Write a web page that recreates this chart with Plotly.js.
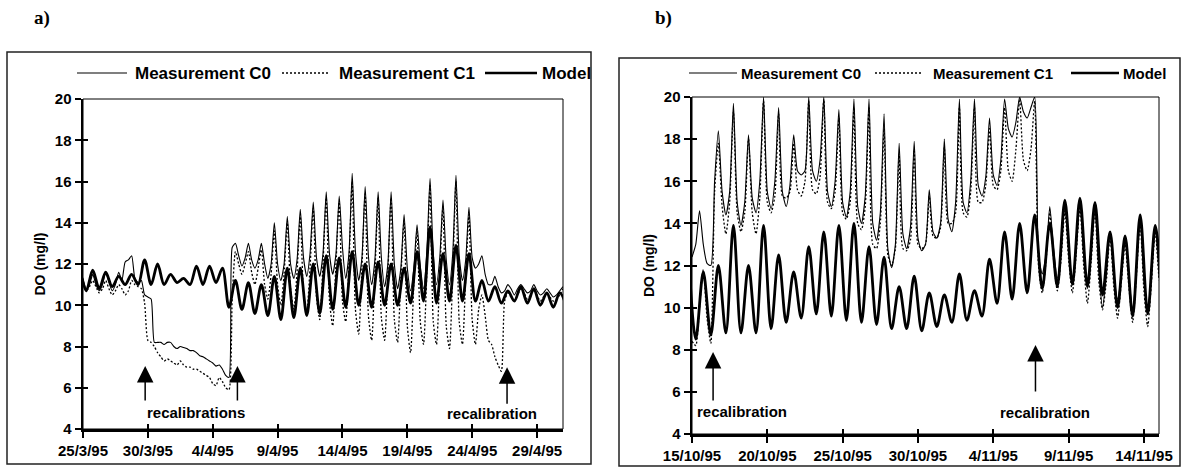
<!DOCTYPE html>
<html>
<head>
<meta charset="utf-8">
<script src="https://cdn.plot.ly/plotly-3.0.1.min.js"></script>
<style>html,body{margin:0;padding:0;background:#fff;}#chart{width:1186px;height:468px;}</style>
</head>
<body>
<div id="chart"></div>
<script>
// ---------------- DATA ----------------
// Panel a) 25/3/95 - 1/5/95
const tickValsA = ['1995-03-25','1995-03-30','1995-04-04','1995-04-09','1995-04-14','1995-04-19','1995-04-24','1995-04-29'];
const tickTextA = ['25/3/95','30/3/95','4/4/95','9/4/95','14/4/95','19/4/95','24/4/95','29/4/95'];
// Measurement C0, panel a, every 6 h from 25/3/95 00:00 (00,06,12,18 per day)
const c0A = [
 11.3,10.8,11.0,11.5,  11.0,10.7,11.0,11.6,  11.1,10.7,11.0,11.6,  11.2,12.1,12.2,12.4,
 11.3,11.1,11.2,10.5,  10.4,10.3,8.2,8.2,    8.2,8.1,8.2,8.2,      8.0,7.9,8.0,7.95,
 7.9,7.8,7.8,7.7,      7.55,7.5,7.4,7.3,     7.2,7.05,7.1,6.9,     6.6,6.5,12.8,13.0,
 12.4,11.9,12.3,13.0,  12.2,11.8,12.2,13.0,  12.0,11.3,12.0,14.0,  12.0,11.2,12.0,14.3,
 12.0,11.3,12.2,14.65, 12.3,11.4,12.5,15.0,  12.3,11.4,12.5,15.5,  12.5,11.5,12.5,15.3,
 12.8,11.3,12.5,16.4,  12.6,11.2,12.3,15.75, 12.4,11.0,12.2,15.5,  12.3,10.9,12.0,15.5,
 12.0,10.8,11.8,14.4,  11.8,10.7,11.8,13.9,  11.9,10.8,12.5,16.15, 12.5,11.0,12.3,15.1,
 12.2,11.0,12.5,16.3,  12.4,11.2,12.2,14.75, 12.3,11.8,12.0,12.4,  11.5,11.0,11.0,11.4,
 10.9,10.6,10.7,11.0,  10.8,10.5,10.8,11.0,  10.8,10.6,10.7,11.0,  10.7,10.5,10.6,10.8,
 10.6,10.4,10.5,10.7,  10.9
];
// Measurement C1, panel a, same 6 h grid
const c1A = [
 11.0,10.7,10.9,11.2,  10.9,10.6,10.8,11.2,  10.8,10.5,10.7,11.0,  10.8,10.5,10.7,11.2,
 11.0,10.9,10.8,10.1,  8.3,8.2,8.0,7.7,      7.5,7.3,7.4,7.3,      7.2,7.1,7.3,7.1,
 7.0,7.0,6.9,6.9,      6.8,6.7,6.6,6.5,      6.2,6.1,6.5,6.3,      6.0,5.9,10.3,12.6,
 12.0,11.5,12.0,12.6,  11.6,11.0,11.8,12.7,  11.0,10.3,11.5,13.6,  11.0,10.0,11.5,14.0,
 10.8,9.8,11.6,14.3,   10.6,9.7,11.8,14.7,   10.4,9.3,12.0,15.2,   10.2,9.0,12.0,15.0,
 10.2,9.2,12.0,16.0,   9.8,8.6,11.8,15.4,    9.5,8.3,11.5,15.2,    9.4,8.3,11.5,15.2,
 9.3,8.2,11.3,14.1,    9.0,7.7,11.0,13.6,    9.2,8.1,11.5,15.8,    9.2,8.1,11.5,14.8,
 9.0,7.9,11.5,16.0,    9.2,8.1,11.3,14.4,    9.3,8.1,9.8,10.5,     9.5,8.3,8.1,7.5,
 7.1,6.8,10.2,10.6,    10.4,10.2,10.5,10.8,  10.6,10.3,10.5,10.8,  10.5,10.2,10.4,10.6,
 10.4,10.2,10.3,10.5,  10.8
];
// Model, panel a, every 12 h from 24/3/95 18:00 (06 trough, 18 peak)
const modelA = [
 11.8,
 10.7,11.7, 10.8,11.6, 10.9,11.4, 11.0,11.5, 11.0,12.2, 11.0,12.0, 11.0,11.5, 11.1,11.3,
 11.0,11.9, 11.0,11.9, 11.1,11.8, 9.9,11.2,  9.8,11.1,  9.6,11.0,  9.5,11.4,  9.3,11.8,
 9.4,11.8,  9.5,12.0,  9.6,12.4,  9.8,12.3,  9.9,12.6,  10.0,12.0, 9.9,12.1,  10.0,12.0,
 10.0,11.8, 10.1,12.6, 10.2,13.8, 10.1,12.5, 10.2,12.9, 10.2,12.5, 10.2,11.2, 10.2,10.9,
 10.1,10.7, 10.2,10.9, 10.1,10.8, 10.0,10.6, 9.9,10.6,  10.0
];

// Panel b) 15/10/95 - 15/11/95
const tickValsB = ['1995-10-15','1995-10-20','1995-10-25','1995-10-30','1995-11-04','1995-11-09','1995-11-14'];
const tickTextB = ['15/10/95','20/10/95','25/10/95','30/10/95','4/11/95','9/11/95','14/11/95'];
// Measurement C0, panel b, every 6 h from 15/10/95 00:00
const c0B = [
 12.4,13.0,14.6,13.0,  12.1,12.0,16.0,18.4,  15.5,14.4,15.5,19.7,  15.0,13.9,15.0,18.2,
 15.2,14.5,16.0,20.0,  15.5,14.7,16.0,19.5,  15.5,14.8,15.8,18.2,  16.5,16.3,16.5,20.0,
 16.5,16.0,17.0,20.0,  15.5,14.8,16.0,19.4,  15.0,14.3,15.5,19.9,  14.8,14.0,15.3,19.9,
 14.0,13.2,14.5,19.2,  12.8,11.9,13.0,17.8,  13.5,12.8,13.8,17.9,  13.3,12.7,13.0,15.6,
 13.6,13.3,14.0,18.0,  14.2,13.6,15.0,19.9,  15.0,14.5,16.0,19.9,  15.8,15.3,16.2,19.0,
 16.3,15.8,17.0,19.9,  18.5,18.1,18.8,20.0,  19.3,19.0,19.5,20.0,  12.5,11.6,12.5,14.8,
 12.8,11.4,12.6,14.9,  12.8,11.3,12.8,15.0,  12.5,10.9,12.5,14.8,  11.8,10.0,11.5,13.6,
 11.5,10.4,11.5,13.2,  11.5,9.8,11.8,14.2,   11.3,9.9,11.5,13.8,   11.5
];
// Measurement C1, panel b, same 6 h grid
const c1B = [
 8.4,8.2,10.0,11.8,    9.5,8.3,15.5,17.8,    14.8,13.5,15.0,19.3,  14.5,13.6,14.5,18.0,
 14.5,13.5,15.2,19.8,  15.0,14.5,15.3,19.2,  15.3,15.2,15.5,17.8,  15.6,15.3,16.0,19.8,
 15.6,15.4,16.2,19.9,  15.0,14.7,15.5,19.0,  14.5,14.2,15.0,19.5,  14.0,13.7,14.8,19.5,
 13.0,12.8,14.0,18.5,  12.5,12.0,12.8,17.3,  12.8,12.7,13.2,17.5,  13.0,12.8,13.0,15.3,
 13.4,13.3,13.8,17.6,  14.0,14.0,14.5,19.5,  14.5,14.3,15.5,19.5,  15.0,15.0,15.8,18.5,
 15.8,15.6,16.5,19.5,  16.5,16.0,17.5,19.9,  17.0,16.5,17.5,19.8,  12.0,10.7,12.2,14.5,
 12.3,10.8,12.3,14.6,  12.3,10.7,12.5,14.8,  12.0,10.2,12.2,14.6,  11.3,9.9,11.2,13.4,
 11.0,9.5,11.2,13.0,   11.0,9.3,11.5,14.0,   10.8,9.1,11.2,13.6,   11.3
];
// Model, panel b, every 12 h from 14/10/95 18:00
const modelB = [
 12.8,
 8.5,11.7,  8.7,12.0,  8.8,13.9,  8.8,12.0,  8.8,13.9,  9.0,12.5,  9.3,11.7,  9.5,12.9,
 9.7,13.6,  9.6,13.9,  9.4,14.0,  9.3,12.9,  9.2,12.4,  9.0,11.0,  9.0,11.5,  8.9,10.7,
 9.1,10.6,  9.3,11.6,  9.4,10.8,  9.6,12.3,  10.2,13.6, 10.4,14.0, 10.7,14.4, 10.9,14.0,
 11.0,15.1, 11.1,15.2, 11.0,15.0, 10.6,13.6, 10.0,13.4, 9.6,14.4,  9.7,13.9,  10.0
];

const seriesNames = ['Measurement C0', 'Measurement C1', 'Model'];

// ---------------- HELPERS ----------------
function timeGrid(startIso, stepHours, n) {
  const t0 = Date.parse(startIso + ':00Z');
  const out = [];
  for (let i = 0; i < n; i++) {
    out.push(new Date(t0 + i * stepHours * 3600000).toISOString().slice(0, 16).replace('T', ' '));
  }
  return out;
}
const W = 1186, H = 468;
const px = v => v / W;
const py = v => 1 - v / H;

const FONT = 'Liberation Sans, Arial, Helvetica, sans-serif';
const styleC0 = {color: '#000', width: 1.1, shape: 'spline', smoothing: 0.6};
const styleC1 = {color: '#000', width: 1.3, dash: '2px,2px', shape: 'spline', smoothing: 0.6};
const styleM  = {color: '#000', width: 2.8, shape: 'spline', smoothing: 0.9};

function tr(x, y, name, line, xa, ya) {
  return {x: x, y: y, name: name, type: 'scatter', mode: 'lines', line: line,
          xaxis: xa, yaxis: ya, showlegend: false, hoverinfo: 'skip'};
}

const traces = [
  tr(timeGrid('1995-03-24T18:00', 12, modelA.length), modelA, seriesNames[2], styleM, 'x', 'y'),
  tr(timeGrid('1995-03-25T00:00', 6, c1A.length), c1A, seriesNames[1], styleC1, 'x', 'y'),
  tr(timeGrid('1995-03-25T00:00', 6, c0A.length), c0A, seriesNames[0], styleC0, 'x', 'y'),
  tr(timeGrid('1995-10-14T18:00', 12, modelB.length), modelB, seriesNames[2], styleM, 'x2', 'y2'),
  tr(timeGrid('1995-10-15T00:00', 6, c1B.length), c1B, seriesNames[1], styleC1, 'x2', 'y2'),
  tr(timeGrid('1995-10-15T00:00', 6, c0B.length), c0B, seriesNames[0], styleC0, 'x2', 'y2'),
  // empty traces that carry the inner (crossing) tick marks
  {x: [], y: [], type: 'scatter', xaxis: 'x3', yaxis: 'y3', showlegend: false, hoverinfo: 'skip'},
  {x: [], y: [], type: 'scatter', xaxis: 'x4', yaxis: 'y4', showlegend: false, hoverinfo: 'skip'}
];

const tickFont = {family: FONT, size: 15, color: '#000', weight: 700};
function xAxis(domain, range, vals, text, anchor) {
  return {domain: domain, range: range, type: 'date', anchor: anchor,
    tickmode: 'array', tickvals: vals, ticktext: text, ticks: 'outside', ticklen: 6, tickwidth: 2,
    tickcolor: '#000', showline: true, linewidth: 2.5, linecolor: '#000', showgrid: false,
    zeroline: false, tickfont: tickFont, ticklabelstandoff: 0, automargin: false, fixedrange: true};
}
function yAxis(domain, anchor) {
  return {domain: domain, range: [4, 20], anchor: anchor, tickmode: 'array',
    tickvals: [4, 6, 8, 10, 12, 14, 16, 18, 20], ticks: 'outside', ticklen: 6, tickwidth: 2,
    tickcolor: '#000', showline: true, linewidth: 2.5, linecolor: '#000', showgrid: false,
    zeroline: false, tickfont: tickFont, automargin: false, fixedrange: true,
    title: {text: 'DO (mg/l)', font: {family: FONT, size: 14, color: '#000', weight: 700}, standoff: 6}};
}
function innerX(over, range, vals, anchor) {
  return {overlaying: over, anchor: anchor, range: range, type: 'date', tickmode: 'array', tickvals: vals,
    ticks: 'inside', ticklen: 5, tickwidth: 2, tickcolor: '#000', showticklabels: false,
    showline: false, showgrid: false, zeroline: false, fixedrange: true};
}
function innerY(over, anchor) {
  return {overlaying: over, anchor: anchor, range: [4, 20], tickmode: 'array',
    tickvals: [4, 6, 8, 10, 12, 14, 16, 18, 20], ticks: 'inside', ticklen: 5, tickwidth: 2,
    tickcolor: '#000', showticklabels: false, showline: false, showgrid: false, zeroline: false, fixedrange: true};
}

const rangeA = ['1995-03-25 00:00', '1995-05-01 00:00'];
const rangeB = ['1995-10-15 00:00', '1995-11-15 00:00'];
const domXA = [px(83), px(563)], domYA = [py(429), py(99)];
const domXB = [px(692), px(1159)], domYB = [py(434), py(97)];

const shapes = [
  // panel frames
  {type: 'rect', xref: 'paper', yref: 'paper', x0: px(7), x1: px(591), y0: py(464), y1: py(52),
   line: {color: '#222', width: 1.5}},
  {type: 'rect', xref: 'paper', yref: 'paper', x0: px(619), x1: px(1180), y0: py(466), y1: py(58),
   line: {color: '#222', width: 1.5}},
  // thin plot-area borders
  {type: 'rect', xref: 'x domain', yref: 'y domain', x0: 0, x1: 1, y0: 0, y1: 1, line: {color: '#000', width: 1}},
  {type: 'rect', xref: 'x2 domain', yref: 'y2 domain', x0: 0, x1: 1, y0: 0, y1: 1, line: {color: '#000', width: 1}},
  // legend samples, panel a
  {type: 'line', xref: 'paper', yref: 'paper', x0: px(77), x1: px(127), y0: py(73), y1: py(73), line: {color: '#000', width: 1.1}},
  {type: 'line', xref: 'paper', yref: 'paper', x0: px(282), x1: px(330), y0: py(73), y1: py(73), line: {color: '#000', width: 1.3, dash: '2px,2px'}},
  {type: 'line', xref: 'paper', yref: 'paper', x0: px(485), x1: px(537), y0: py(73), y1: py(73), line: {color: '#000', width: 2.5}},
  // legend samples, panel b
  {type: 'line', xref: 'paper', yref: 'paper', x0: px(689), x1: px(737), y0: py(73), y1: py(73), line: {color: '#000', width: 1.1}},
  {type: 'line', xref: 'paper', yref: 'paper', x0: px(875), x1: px(923), y0: py(73), y1: py(73), line: {color: '#000', width: 1.3, dash: '2px,2px'}},
  {type: 'line', xref: 'paper', yref: 'paper', x0: px(1071), x1: px(1119), y0: py(73), y1: py(73), line: {color: '#000', width: 2.5}}
];

function txt(x, y, text, size, xanchor, fam) {
  return {xref: 'paper', yref: 'paper', x: px(x), y: py(y), text: text, showarrow: false,
    xanchor: xanchor || 'left', yanchor: 'middle',
    font: {family: fam || FONT, size: size, color: '#000', weight: 700}};
}
function arrow(xref, yref, x, y, ay) {
  return {xref: xref, yref: yref, x: x, y: y, ax: 0, ay: ay, text: '', showarrow: true,
    arrowhead: 2, arrowsize: 2.2, arrowwidth: 1.5, arrowcolor: '#000', standoff: 0, startstandoff: 0};
}
function label(xref, yref, x, y, text) {
  return {xref: xref, yref: yref, x: x, y: y, text: text, showarrow: false, xanchor: 'center', yanchor: 'middle',
    font: {family: FONT, size: 15, color: '#000', weight: 700}};
}

const annotations = [
  txt(42, 18, 'a)', 19, 'center', 'Liberation Serif, Times New Roman, serif'),
  txt(663, 18, 'b)', 19, 'center', 'Liberation Serif, Times New Roman, serif'),
  txt(133, 73, seriesNames[0], 17), txt(337, 73, seriesNames[1], 17), txt(540, 73, seriesNames[2], 17),
  txt(739, 73, seriesNames[0], 15), txt(931, 73, seriesNames[1], 15), txt(1121, 73, seriesNames[2], 15),
  arrow('x', 'y', '1995-03-29 19:00', 7.05, 36),
  arrow('x', 'y', '1995-04-05 21:40', 7.05, 36),
  label('x', 'y', '1995-04-02 17:30', 4.82, 'recalibrations'),
  arrow('x', 'y', '1995-04-26 16:30', 7.0, 38),
  label('x', 'y', '1995-04-25 12:45', 4.77, 'recalibration'),
  arrow('x2', 'y2', '1995-10-16 09:36', 7.89, 50),
  label('x2', 'y2', '1995-10-18 08:00', 5.09, 'recalibration'),
  arrow('x2', 'y2', '1995-11-06 19:12', 8.23, 48),
  label('x2', 'y2', '1995-11-07 09:36', 5.0, 'recalibration')
];

const layout = {
  width: W, height: H, margin: {l: 0, r: 0, t: 0, b: 0}, paper_bgcolor: '#fff', plot_bgcolor: '#fff',
  showlegend: false, font: {family: FONT, color: '#000'},
  xaxis: xAxis(domXA, rangeA, tickValsA, tickTextA, 'y'),
  yaxis: yAxis(domYA, 'x'),
  xaxis2: xAxis(domXB, rangeB, tickValsB, tickTextB, 'y2'),
  yaxis2: yAxis(domYB, 'x2'),
  xaxis3: innerX('x', rangeA, tickValsA, 'y3'),
  yaxis3: innerY('y', 'x3'),
  xaxis4: innerX('x2', rangeB, tickValsB, 'y4'),
  yaxis4: innerY('y2', 'x4'),
  shapes: shapes, annotations: annotations
};

Plotly.newPlot('chart', traces, layout, {staticPlot: true, displayModeBar: false});
</script>
</body>
</html>
